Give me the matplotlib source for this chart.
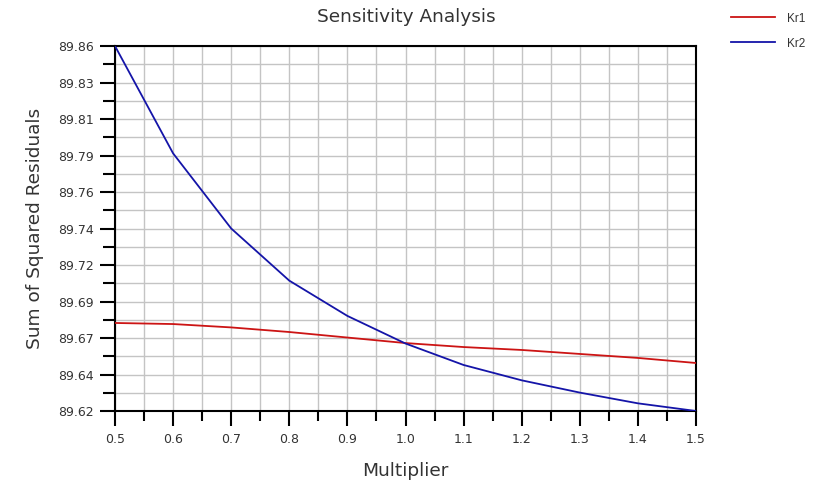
import numpy as np
import matplotlib
matplotlib.use("Agg")
import matplotlib.pyplot as plt
from matplotlib.ticker import FixedLocator, MultipleLocator

plt.rcParams['font.family'] = ['DejaVu Sans']

multiplier = [0.5, 0.6, 0.7, 0.8, 0.9, 1.0, 1.1, 1.2, 1.3, 1.4, 1.5]
kr1 = [89.6774, 89.6767, 89.6745, 89.6715, 89.6679, 89.6643,
       89.6617, 89.6598, 89.6572, 89.6546, 89.6513]
kr2 = [89.858, 89.788, 89.739, 89.705, 89.682, 89.664,
       89.650, 89.640, 89.632, 89.625, 89.620]

y_min, y_max = 89.620, 89.858
x_ticks = [0.5, 0.6, 0.7, 0.8, 0.9, 1.0, 1.1, 1.2, 1.3, 1.4, 1.5]
x_labels = ["0.5", "0.6", "0.7", "0.8", "0.9", "1.0", "1.1", "1.2", "1.3", "1.4", "1.5"]

text_col = '#333333'

fig = plt.figure(figsize=(8.14, 4.86), dpi=100)
ax = fig.add_axes([115 / 814, 1 - 411 / 486, 581 / 814, 365 / 486])

ax.plot(multiplier, kr1, color='#cc1414', lw=1.3, label='Kr1', zorder=3)
ax.plot(multiplier, kr2, color='#1414a8', lw=1.3, label='Kr2', zorder=3)

ax.set_xlim(0.5, 1.5)
ax.set_ylim(y_min, y_max)

yt = np.linspace(y_min, y_max, 11)
ax.yaxis.set_major_locator(FixedLocator(yt))
ax.yaxis.set_minor_locator(FixedLocator(np.linspace(y_min, y_max, 21)))
ax.set_yticklabels([f"{v:.2f}" for v in yt])
ax.xaxis.set_major_locator(FixedLocator(x_ticks))
ax.xaxis.set_minor_locator(MultipleLocator(0.05))
ax.set_xticklabels(x_labels)

ax.grid(which='both', color='#c4c4c4', lw=1.0, zorder=0)
ax.set_axisbelow(True)
for s in ax.spines.values():
    s.set_linewidth(1.5)
    s.set_color('black')

ax.tick_params(which='major', direction='out', length=10.5, width=1.5,
               labelsize=9, labelcolor=text_col)
ax.tick_params(axis='y', which='major', pad=5)
ax.tick_params(axis='x', which='major', pad=5)
ax.tick_params(axis='x', which='minor', direction='out', length=7, width=1.5)
ax.tick_params(axis='y', which='minor', direction='out', length=8.5, width=1.5)

fig.text(406 / 814, 1 - 22 / 486, "Sensitivity Analysis", fontsize=13.3,
         color=text_col, ha='center', va='baseline')
fig.text(405 / 814, 1 - 476 / 486, "Multiplier", fontsize=13.3,
         color=text_col, ha='center', va='baseline')
fig.text(35 / 814, 1 - 228 / 486, "Sum of Squared Residuals", fontsize=13.3,
         color=text_col, ha='center', va='center', rotation=90)

fig.legend(loc='upper left', bbox_to_anchor=(720 / 814, 1 - 2 / 486),
           frameon=False, handlelength=3.8, labelspacing=1.1,
           handletextpad=1.0, labelcolor=text_col,
           prop={'family': 'Liberation Sans', 'size': 8.5})

fig.savefig("out.png", dpi=100)
